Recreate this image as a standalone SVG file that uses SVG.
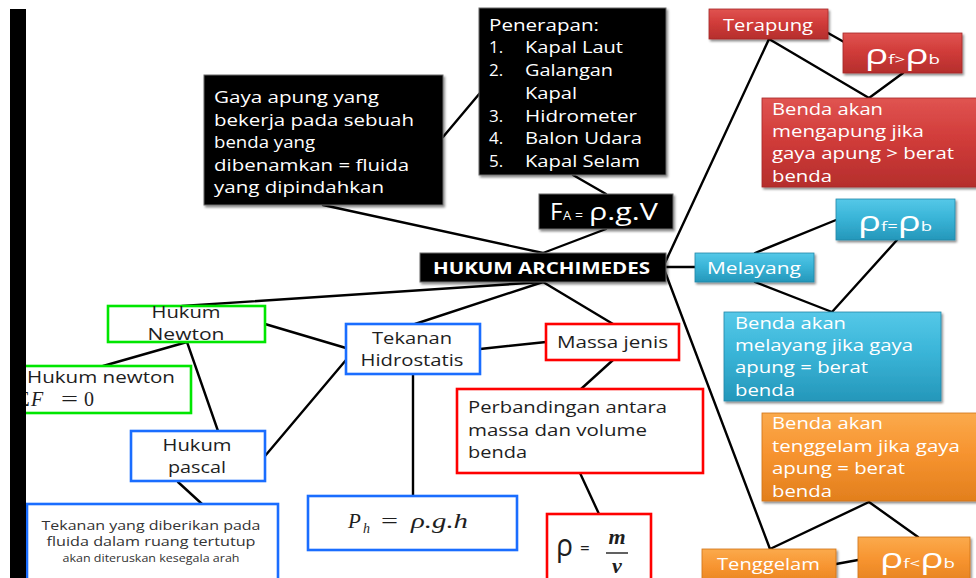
<svg xmlns="http://www.w3.org/2000/svg" width="976" height="578" viewBox="0 0 976 578">
  <defs>
    <linearGradient id="gRed" x1="0" y1="0" x2="0" y2="1">
      <stop offset="0" stop-color="#e05451"/>
      <stop offset="0.45" stop-color="#d13c3a"/>
      <stop offset="1" stop-color="#b52e2c"/>
    </linearGradient>
    <linearGradient id="gCyan" x1="0" y1="0" x2="0" y2="1">
      <stop offset="0" stop-color="#55c8e8"/>
      <stop offset="0.45" stop-color="#3ab5d8"/>
      <stop offset="1" stop-color="#2597ba"/>
    </linearGradient>
    <linearGradient id="gOrange" x1="0" y1="0" x2="0" y2="1">
      <stop offset="0" stop-color="#fbaa4c"/>
      <stop offset="0.45" stop-color="#f79430"/>
      <stop offset="1" stop-color="#e27f1d"/>
    </linearGradient>
    <filter id="sh" x="-10%" y="-15%" width="125%" height="140%">
      <feDropShadow dx="1.5" dy="2" stdDeviation="1.2" flood-color="#000" flood-opacity="0.45"/>
    </filter>
  </defs>
  <style>
    .t{font-family:"Open Sans","Noto Sans",sans-serif;font-size:17px}
    .w{fill:#ffffff}
    .d{fill:#1e1e1e}
    .mid{text-anchor:middle}
    .b{font-weight:bold}
    .m{font-family:"Liberation Serif","DejaVu Serif",serif;font-style:italic;fill:#1e1e1e}
    .up{font-style:normal}
    .blk{fill:#000;stroke:#6a6a6a;stroke-width:1}
    .red{fill:url(#gRed);stroke:#a52a28;stroke-width:0.8}
    .cyan{fill:url(#gCyan);stroke:#2288a8;stroke-width:0.8}
    .orange{fill:url(#gOrange);stroke:#cf7418;stroke-width:0.8}
    .bG{fill:#fff;stroke:#00e600;stroke-width:2.6}
    .bB{fill:#fff;stroke:#1a6dff;stroke-width:2.6}
    .bR{fill:#fff;stroke:#ff0000;stroke-width:2.6}
    #connectors line{stroke:#000;stroke-width:2.4;stroke-linecap:round}
  </style>

  <rect width="976" height="578" fill="#ffffff"/>

  <!-- connectors -->
  <g id="connectors">
    <line x1="443" y1="137" x2="480" y2="93"/>
    <line x1="323" y1="205" x2="543" y2="253"/>
    <line x1="573" y1="175" x2="606" y2="194"/>
    <line x1="606" y1="229" x2="543" y2="253"/>
    <line x1="543" y1="282" x2="182" y2="306"/>
    <line x1="543" y1="282" x2="415" y2="324"/>
    <line x1="543" y1="282" x2="613" y2="324"/>
    <line x1="265" y1="324" x2="346" y2="348"/>
    <line x1="187" y1="342" x2="103" y2="366"/>
    <line x1="187" y1="342" x2="218" y2="431"/>
    <line x1="265" y1="456" x2="346" y2="360"/>
    <line x1="178" y1="482" x2="202" y2="504"/>
    <line x1="413" y1="374" x2="413" y2="496"/>
    <line x1="480" y1="349" x2="546" y2="342"/>
    <line x1="613" y1="360" x2="581" y2="389"/>
    <line x1="580" y1="473" x2="599" y2="514"/>
    <line x1="664" y1="265" x2="769" y2="39"/>
    <line x1="664" y1="267" x2="695" y2="267"/>
    <line x1="664" y1="269" x2="770" y2="549"/>
    <line x1="828" y1="33" x2="844" y2="42"/>
    <line x1="769" y1="39" x2="869" y2="98"/>
    <line x1="903" y1="73" x2="869" y2="98"/>
    <line x1="755" y1="253" x2="836" y2="220"/>
    <line x1="755" y1="282" x2="832" y2="312"/>
    <line x1="897" y1="240" x2="832" y2="312"/>
    <line x1="770" y1="549" x2="869" y2="502"/>
    <line x1="869" y1="502" x2="918" y2="537"/>
    <line x1="836" y1="564" x2="858" y2="560"/>
  </g>

  <!-- black nodes -->
  <g id="gaya-apung">
    <rect class="blk" x="204" y="75" width="239" height="130" filter="url(#sh)"/>
    <text class="t w" x="214" y="103" textLength="165" lengthAdjust="spacingAndGlyphs">Gaya apung yang</text>
    <text class="t w" x="214" y="125.5" textLength="200" lengthAdjust="spacingAndGlyphs">bekerja pada sebuah</text>
    <text class="t w" x="214" y="148" textLength="101" lengthAdjust="spacingAndGlyphs">benda yang</text>
    <text class="t w" x="214" y="170.5" textLength="195" lengthAdjust="spacingAndGlyphs">dibenamkan = fluida</text>
    <text class="t w" x="214" y="193" textLength="170" lengthAdjust="spacingAndGlyphs">yang dipindahkan</text>
  </g>

  <g id="penerapan">
    <rect class="blk" x="479" y="8" width="187" height="167" filter="url(#sh)"/>
    <text class="t w" x="489" y="31" textLength="110" lengthAdjust="spacingAndGlyphs">Penerapan:</text>
    <text class="t w" x="489" y="53">1.</text>
    <text class="t w" x="525" y="53" textLength="98" lengthAdjust="spacingAndGlyphs">Kapal Laut</text>
    <text class="t w" x="489" y="76">2.</text>
    <text class="t w" x="525" y="76" textLength="88" lengthAdjust="spacingAndGlyphs">Galangan</text>
    <text class="t w" x="525" y="99" textLength="52" lengthAdjust="spacingAndGlyphs">Kapal</text>
    <text class="t w" x="489" y="122">3.</text>
    <text class="t w" x="525" y="122" textLength="112" lengthAdjust="spacingAndGlyphs">Hidrometer</text>
    <text class="t w" x="489" y="144">4.</text>
    <text class="t w" x="525" y="144" textLength="117" lengthAdjust="spacingAndGlyphs">Balon Udara</text>
    <text class="t w" x="489" y="167">5.</text>
    <text class="t w" x="525" y="167" textLength="115" lengthAdjust="spacingAndGlyphs">Kapal Selam</text>
  </g>

  <g id="rumus-fa">
    <rect class="blk" x="539" y="194" width="134" height="35" filter="url(#sh)"/>
    <text class="t w" x="550" y="220" style="font-size:24px">F</text>
    <text class="t w" x="563" y="220" style="font-size:13px">A</text>
    <text class="t w" x="575" y="220" style="font-size:14px">=</text>
    <text class="t w" x="589" y="220" style="font-size:23px" textLength="69" lengthAdjust="spacingAndGlyphs">ρ.g.V</text>
  </g>

  <g id="hukum-archimedes">
    <rect class="blk" x="420" y="253" width="246" height="29" filter="url(#sh)"/>
    <text class="t w b mid" x="541.5" y="274" style="font-size:16px" textLength="217" lengthAdjust="spacingAndGlyphs">HUKUM ARCHIMEDES</text>
  </g>

  <!-- terapung branch -->
  <g id="terapung">
    <rect class="red" x="709" y="9" width="119" height="30" filter="url(#sh)"/>
    <text class="t w" x="723" y="31" textLength="90" lengthAdjust="spacingAndGlyphs">Terapung</text>
  </g>
  <g id="rho-lebih">
    <rect class="red" x="843" y="33" width="119" height="40" filter="url(#sh)"/>
    <text class="t w" x="865" y="64" textLength="75" lengthAdjust="spacingAndGlyphs"><tspan style="font-size:27px">ρ</tspan><tspan style="font-size:13px">f&gt;</tspan><tspan style="font-size:27px">ρ</tspan><tspan style="font-size:13px">b</tspan></text>
  </g>
  <g id="ket-terapung">
    <rect class="red" x="762" y="98" width="216" height="89" filter="url(#sh)"/>
    <text class="t w" x="772" y="115" textLength="111" lengthAdjust="spacingAndGlyphs">Benda akan</text>
    <text class="t w" x="772" y="137" textLength="152" lengthAdjust="spacingAndGlyphs">mengapung jika</text>
    <text class="t w" x="772" y="159" textLength="182" lengthAdjust="spacingAndGlyphs">gaya apung &gt; berat</text>
    <text class="t w" x="772" y="182" textLength="60" lengthAdjust="spacingAndGlyphs">benda</text>
  </g>

  <!-- melayang branch -->
  <g id="melayang">
    <rect class="cyan" x="695" y="253" width="119" height="29" filter="url(#sh)"/>
    <text class="t w" x="707" y="274" textLength="94" lengthAdjust="spacingAndGlyphs">Melayang</text>
  </g>
  <g id="rho-sama">
    <rect class="cyan" x="836" y="199" width="119" height="41" filter="url(#sh)"/>
    <text class="t w" x="858" y="231" textLength="74" lengthAdjust="spacingAndGlyphs"><tspan style="font-size:27px">ρ</tspan><tspan style="font-size:13px">f=</tspan><tspan style="font-size:27px">ρ</tspan><tspan style="font-size:13px">b</tspan></text>
  </g>
  <g id="ket-melayang">
    <rect class="cyan" x="724" y="312" width="217" height="89" filter="url(#sh)"/>
    <text class="t w" x="735" y="329" textLength="111" lengthAdjust="spacingAndGlyphs">Benda akan</text>
    <text class="t w" x="735" y="351" textLength="178" lengthAdjust="spacingAndGlyphs">melayang jika gaya</text>
    <text class="t w" x="735" y="373" textLength="133" lengthAdjust="spacingAndGlyphs">apung = berat</text>
    <text class="t w" x="735" y="396" textLength="60" lengthAdjust="spacingAndGlyphs">benda</text>
  </g>

  <!-- tenggelam branch -->
  <g id="ket-tenggelam">
    <rect class="orange" x="762" y="413" width="216" height="88" filter="url(#sh)"/>
    <text class="t w" x="772" y="429" textLength="111" lengthAdjust="spacingAndGlyphs">Benda akan</text>
    <text class="t w" x="772" y="452" textLength="188" lengthAdjust="spacingAndGlyphs">tenggelam jika gaya</text>
    <text class="t w" x="772" y="474" textLength="133" lengthAdjust="spacingAndGlyphs">apung = berat</text>
    <text class="t w" x="772" y="497" textLength="60" lengthAdjust="spacingAndGlyphs">benda</text>
  </g>
  <g id="tenggelam">
    <rect class="orange" x="702" y="549" width="134" height="40" filter="url(#sh)"/>
    <text class="t w" x="717" y="570" textLength="103" lengthAdjust="spacingAndGlyphs">Tenggelam</text>
  </g>
  <g id="rho-kurang">
    <rect class="orange" x="858" y="537" width="112" height="50" filter="url(#sh)"/>
    <text class="t w" x="880" y="568" textLength="75" lengthAdjust="spacingAndGlyphs"><tspan style="font-size:27px">ρ</tspan><tspan style="font-size:13px">f&lt;</tspan><tspan style="font-size:27px">ρ</tspan><tspan style="font-size:13px">b</tspan></text>
  </g>

  <!-- left side: Newton / Pascal / hydrostatic -->
  <g id="hukum-newton">
    <rect class="bG" x="108" y="306" width="157" height="36"/>
    <text class="t d mid" x="186" y="318" textLength="69" lengthAdjust="spacingAndGlyphs">Hukum</text>
    <text class="t d mid" x="186" y="340" textLength="77" lengthAdjust="spacingAndGlyphs">Newton</text>
  </g>
  <g id="newton-nol">
    <rect class="bG" x="16" y="366" width="175" height="47"/>
    <text class="t d" x="27" y="383" textLength="148" lengthAdjust="spacingAndGlyphs">Hukum newton</text>
    <text class="m up" x="18" y="406" style="font-size:20px">Σ</text>
    <text class="m" x="31" y="406" style="font-size:20px">F</text>
    <text class="m up" x="61" y="406" style="font-size:20px" textLength="17" lengthAdjust="spacingAndGlyphs">=</text>
    <text class="m up" x="84" y="406" style="font-size:20px">0</text>
  </g>
  <g id="hukum-pascal">
    <rect class="bB" x="131" y="431" width="134" height="50"/>
    <text class="t d mid" x="197" y="451" textLength="69" lengthAdjust="spacingAndGlyphs">Hukum</text>
    <text class="t d mid" x="197" y="473" textLength="58" lengthAdjust="spacingAndGlyphs">pascal</text>
  </g>
  <g id="ket-pascal">
    <rect class="bB" x="27" y="504" width="251" height="90"/>
    <text class="t d mid" x="151" y="530" style="font-size:12.5px;fill:#333" textLength="219" lengthAdjust="spacingAndGlyphs">Tekanan yang diberikan pada</text>
    <text class="t d mid" x="151" y="546" style="font-size:12.5px;fill:#333" textLength="209" lengthAdjust="spacingAndGlyphs">fluida dalam ruang tertutup</text>
    <text class="t d mid" x="151" y="562" style="font-size:10px;fill:#333" textLength="177" lengthAdjust="spacingAndGlyphs">akan diteruskan kesegala arah</text>
  </g>
  <g id="tekanan-hidrostatis">
    <rect class="bB" x="346" y="324" width="134" height="50"/>
    <text class="t d mid" x="412" y="344" textLength="80" lengthAdjust="spacingAndGlyphs">Tekanan</text>
    <text class="t d mid" x="412" y="366" textLength="103" lengthAdjust="spacingAndGlyphs">Hidrostatis</text>
  </g>
  <g id="rumus-ph">
    <rect class="bB" x="308" y="496" width="209" height="54"/>
    <text class="m" x="348" y="528" style="font-size:21px">P</text>
    <text class="m" x="363" y="533" style="font-size:14px">h</text>
    <text class="m up" x="381" y="528" style="font-size:21px" textLength="17" lengthAdjust="spacingAndGlyphs">=</text>
    <text class="m" x="411" y="528" style="font-size:21px" textLength="57" lengthAdjust="spacingAndGlyphs">ρ.g.h</text>
  </g>

  <!-- massa jenis -->
  <g id="massa-jenis">
    <rect class="bR" x="546" y="324" width="133" height="36"/>
    <text class="t d" x="557" y="348" textLength="111" lengthAdjust="spacingAndGlyphs">Massa jenis</text>
  </g>
  <g id="ket-massa-jenis">
    <rect class="bR" x="457" y="389" width="246" height="84"/>
    <text class="t d" x="468" y="413" textLength="199" lengthAdjust="spacingAndGlyphs">Perbandingan antara</text>
    <text class="t d" x="468" y="436" textLength="179" lengthAdjust="spacingAndGlyphs">massa dan volume</text>
    <text class="t d" x="468" y="458" textLength="59" lengthAdjust="spacingAndGlyphs">benda</text>
  </g>
  <g id="rumus-rho">
    <rect class="bR" x="547" y="514" width="104" height="80"/>
    <text class="t d" x="556" y="556" style="font-size:31px" textLength="17" lengthAdjust="spacingAndGlyphs">ρ</text>
    <text class="t d" x="580" y="554" style="font-size:17px">=</text>
    <text class="m mid" x="617" y="544" style="font-size:22px;font-weight:bold">m</text>
    <line x1="606" y1="553" x2="628" y2="553" stroke="#1e1e1e" stroke-width="1.4"/>
    <text class="m mid" x="617" y="573" style="font-size:22px;font-weight:bold">v</text>
  </g>

  <!-- left margin bar -->
  <rect x="10" y="9" width="16" height="569" fill="#000"/>
</svg>
